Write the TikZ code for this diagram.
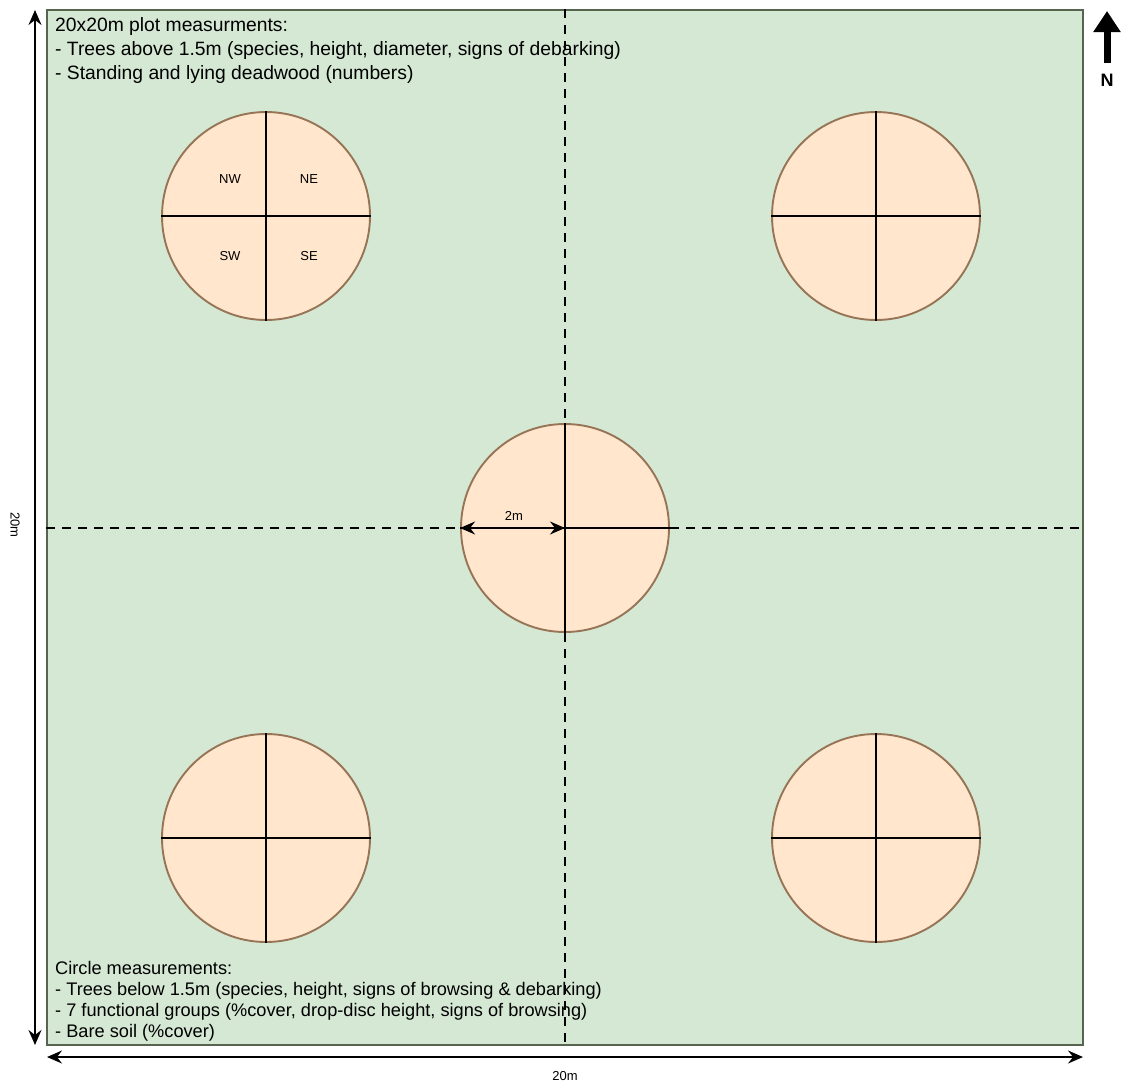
\documentclass[tikz,border=0pt]{standalone}
\usepackage{fontspec}
\setmainfont{Liberation Sans}
\usetikzlibrary{arrows.meta}
\definecolor{plotfill}{HTML}{D5E8D4}
\definecolor{plotline}{HTML}{56654F}
\definecolor{circfill}{HTML}{FFE6CC}
\definecolor{circline}{HTML}{977456}
\begin{document}
\begin{tikzpicture}[x=1pt,y=-1pt,
  plotbox/.style={draw=plotline,fill=plotfill,line width=1.6pt,minimum width=1036pt,minimum height=1035pt,inner sep=0pt},
  circ/.style={circle,draw=circline,fill=circfill,line width=1.9pt,minimum size=208pt,inner sep=0pt},
  cross/.style={black,line width=1.6pt},
  dashline/.style={black,line width=2pt,dash pattern=on 9pt off 7pt},
  dim/.style={black,line width=1.6pt,{Stealth[length=15pt,width=13pt,inset=5pt]}-{Stealth[length=15pt,width=13pt,inset=5pt]}},
  info/.style={anchor=north west,align=left,inner sep=0pt},
  quad/.style={font=\fontsize{13}{15}\selectfont,inner sep=0pt},
  small/.style={font=\fontsize{13}{15}\selectfont,inner sep=0pt}]
\useasboundingbox (0,0) rectangle (1123,1084);
\node[plotbox] (plot) at (565,527.5) {};
\draw[dashline] (plot.north) -- (plot.south);
\draw[dashline] (plot.west) -- (plot.east);
\node[circ] (nw) at (266,216) {};
\node[circ] (ne) at (876,216) {};
\node[circ] (ce) at (565,528) {};
\node[circ] (sw) at (266,838) {};
\node[circ] (se) at (876,838) {};
\foreach \c in {nw,ne,ce,sw,se}{
  \draw[cross] (\c.north) -- (\c.south);
  \draw[cross] (\c.west) -- (\c.east);
}
\node[quad] (qnw) at (230,179) {NW};
\node[quad] (qne) at (309,179) {NE};
\node[quad] (qsw) at (230,256) {SW};
\node[quad] (qse) at (309,256) {SE};
\draw[dim] (ce.west) -- (ce.center);
\node[small] (rad) at (514,516) {2m};
\node[info,font=\fontsize{19.3}{24}\selectfont] (toptext) at (55,17) {20x20m plot measurments:\\- Trees above 1.5m (species, height, diameter, signs of debarking)\\- Standing and lying deadwood (numbers)};
\node[info,anchor=south west,font=\fontsize{18.2}{20.7}\selectfont] (bottext) at (55,1041) {Circle measurements:\\- Trees below 1.5m (species, height, signs of browsing \& debarking)\\- 7 functional groups (\%cover, drop-disc height, signs of browsing)\\- Bare soil (\%cover)};
\coordinate (lt) at (35,10);
\coordinate (lb) at (35,1045);
\coordinate (bl) at (47,1057);
\coordinate (br) at (1083,1057);
\draw[dim] (lt) -- (lb);
\draw[dim] (bl) -- (br);
\node[small,rotate=-90] (lenv) at (15,525) {20m};
\node[small] (lenh) at (565,1076) {20m};
\coordinate (nbase) at (1107,63);
\coordinate (ntip) at (1107,11);
\draw[black,line width=7pt,-{Triangle[length=21pt,width=26pt]}] (nbase) -- (ntip);
\node[font=\fontsize{18}{20}\selectfont\bfseries,inner sep=0pt] (nlab) at (1107,80) {N};
\end{tikzpicture}
\end{document}
